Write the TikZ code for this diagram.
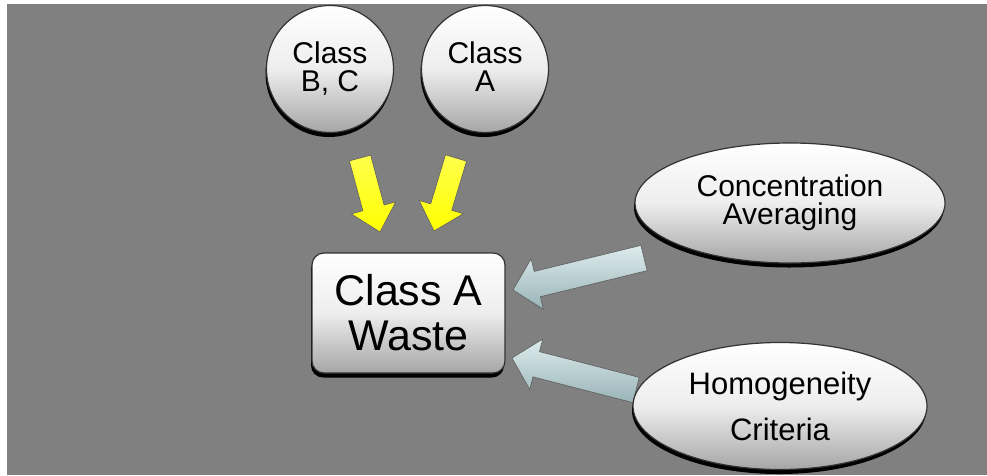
\documentclass[tikz,border=0pt]{standalone}
\usepackage{fontspec}
\setmainfont{Liberation Sans}
\usetikzlibrary{calc,shapes.geometric,shadows}
\definecolor{bggray}{HTML}{808080}
\definecolor{arrowblue}{HTML}{B4D4D8}
\definecolor{arrowyellow}{HTML}{FFFF00}
\newcommand\fatarrow[6]{%
  \coordinate (#1-#2-h) at ($(#2)!#5!(#1)$);
  \path[#6] ($(#1)!#3!90:(#2)$) -- ($(#1-#2-h)!#3!90:(#2)$) -- ($(#1-#2-h)!#4!90:(#2)$)
    -- (#2) -- ($(#1-#2-h)!#4!-90:(#2)$) -- ($(#1-#2-h)!#3!-90:(#2)$)
    -- ($(#1)!#3!-90:(#2)$) -- cycle;
}
\tikzset{
  bubble/.style={draw=black!80, line width=1.2pt, top color=white, bottom color=black!35,
    middle color=white!93!black, align=center, inner sep=0pt,
    drop shadow={shadow xshift=-1pt, shadow yshift=-4.5pt, fill=black, opacity=1}},
  circlenode/.style={bubble, circle, minimum size=127pt, font=\fontsize{30}{28}\selectfont},
  ovalnode/.style={bubble, ellipse},
  boxnode/.style={bubble, rectangle, rounded corners=12pt, minimum width=193pt,
    minimum height=120pt, font=\fontsize{43}{45}\selectfont},
  arrowshadow/.style={fill=black, shift={(-2pt,-3pt)}},
  yellowarrow/.style={top color=arrowyellow!70!white, bottom color=arrowyellow,
    draw=black!60, line width=0.6pt},
  bluearrow/.style={top color=white!55!arrowblue, bottom color=arrowblue!85!black,
    draw=black!60, line width=0.6pt},
}
\begin{document}
\begin{tikzpicture}[x=1pt, y=-1pt]
\useasboundingbox (0,0) rectangle (987,475);
\fill[bggray] (7,4) rectangle (987,475);

% arrow end points
\coordinate (ys1) at (360,158);
\coordinate (ye1) at (380,232);
\coordinate (ys2) at (456,158);
\coordinate (ye2) at (434,231);
\coordinate (bs1) at (644,258);
\coordinate (be1) at (513,290);
\coordinate (bs2) at (636,390);
\coordinate (be2) at (512,358);

% yellow arrows
\fatarrow{ys1}{ye1}{11pt}{23pt}{25pt}{arrowshadow}
\fatarrow{ys1}{ye1}{11pt}{23pt}{25pt}{yellowarrow}
\fatarrow{ys2}{ye2}{11pt}{23pt}{25pt}{arrowshadow}
\fatarrow{ys2}{ye2}{11pt}{23pt}{25pt}{yellowarrow}
% blue arrows
\fatarrow{bs1}{be1}{13pt}{26pt}{25pt}{arrowshadow}
\fatarrow{bs1}{be1}{13pt}{26pt}{25pt}{bluearrow}
\fatarrow{bs2}{be2}{13pt}{26pt}{25pt}{arrowshadow}
\fatarrow{bs2}{be2}{13pt}{26pt}{25pt}{bluearrow}

% nodes
\node[circlenode] (bc) at (330,69) {Class\\B, C};
\node[circlenode] (a) at (485,69) {Class\\A\vphantom{B,}};
\node[boxnode] (waste) at (408.5,313) {Class A\\Waste};
\node[ovalnode, minimum width=310pt, minimum height=120pt,
  font=\fontsize{30}{28}\selectfont] (conc) at (790,203) {Concentration\\Averaging};
\node[ovalnode, minimum width=294pt, minimum height=127pt,
  font=\fontsize{31}{46}\selectfont] (homo) at (780,406) {Homogeneity\\Criteria};
\end{tikzpicture}
\end{document}
